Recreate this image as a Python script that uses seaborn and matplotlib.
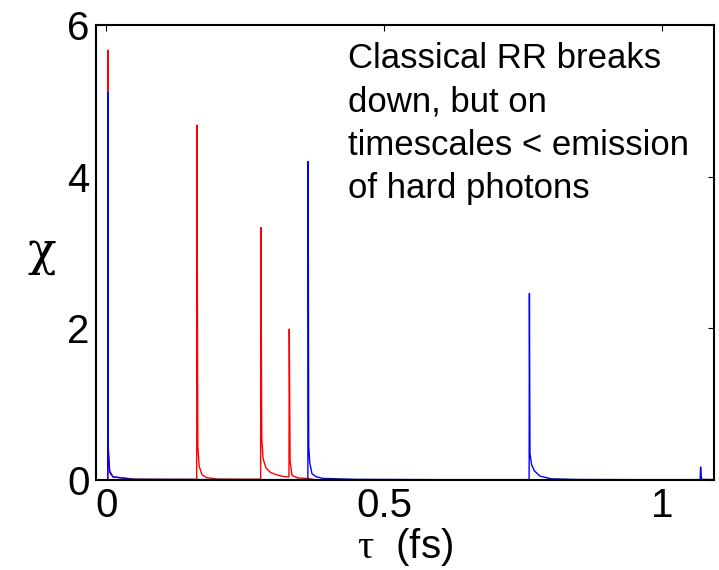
import matplotlib
matplotlib.use("Agg")
import matplotlib.pyplot as plt
import numpy as np
import pandas as pd
import seaborn as sns

# chi vs proper time
red_tau = [0.0, 0.0025, 0.0027, 0.0035, 0.006, 0.012, 0.05, 0.10,
           0.1625, 0.163, 0.1645, 0.167, 0.172, 0.18, 0.20, 0.24,
           0.2775, 0.278, 0.2795, 0.282, 0.287, 0.295, 0.305, 0.318,
           0.3285, 0.329, 0.3305, 0.334, 0.345, 0.36, 0.372]
red_chi = [0.0, 0.0, 5.67, 0.45, 0.12, 0.04, 0.01, 0.008,
           0.008, 4.68, 0.45, 0.18, 0.07, 0.03, 0.012, 0.01,
           0.01, 3.33, 0.55, 0.28, 0.16, 0.10, 0.07, 0.045,
           0.04, 1.99, 0.25, 0.06, 0.025, 0.02, 0.01]

blue_tau = [0.0, 0.0025, 0.0027, 0.0035, 0.006, 0.012, 0.05, 0.2,
            0.3625, 0.363, 0.364, 0.366, 0.37, 0.378, 0.39, 0.45, 0.6,
            0.7605, 0.761, 0.762, 0.765, 0.77, 0.78, 0.80, 0.85, 0.95,
            1.068, 1.069, 1.0705, 1.093]
blue_chi = [0.0, 0.0, 5.11, 0.35, 0.1, 0.04, 0.008, 0.004,
            0.004, 4.2, 0.45, 0.22, 0.08, 0.04, 0.02, 0.008, 0.004,
            0.004, 2.46, 0.35, 0.2, 0.12, 0.05, 0.015, 0.006, 0.004,
            0.004, 0.17, 0.008, 0.004]

x_ticks = [0, 0.5, 1]
x_ticklabels = ["0", "0.5", "1"]
y_ticks = [0, 2, 4, 6]
y_ticklabels = ["0", "2", "4", "6"]

note = "Classical RR breaks\ndown, but on\ntimescales < emission\nof hard photons"

df = pd.concat([
    pd.DataFrame({"tau": red_tau, "chi": red_chi, "run": "red"}),
    pd.DataFrame({"tau": blue_tau, "chi": blue_chi, "run": "blue"}),
], ignore_index=True)

sns.set_style("white")
plt.rcParams["font.family"] = ["Liberation Sans", "DejaVu Sans"]
plt.rcParams["text.color"] = "black"
plt.rcParams["axes.labelcolor"] = "black"
plt.rcParams["mathtext.fontset"] = "custom"
plt.rcParams["mathtext.rm"] = "Liberation Serif"
plt.rcParams["mathtext.it"] = "Liberation Serif:italic"

fig = plt.figure(figsize=(7.19, 5.70), dpi=100)
ax = fig.add_axes([0.134, 0.158, 0.859, 0.798])

sns.lineplot(data=df, x="tau", y="chi", hue="run", hue_order=["red", "blue"],
             palette={"red": "#ff0000", "blue": "#0000ff"},
             estimator=None, sort=False, legend=False, linewidth=1.0, ax=ax)

ax.set_xlim(-0.018, 1.093)
ax.set_ylim(0, 6)
ax.set_xticks(x_ticks)
ax.set_xticklabels(x_ticklabels)
ax.set_yticks(y_ticks)
ax.set_yticklabels(y_ticklabels)
ax.tick_params(direction="in", length=4, width=0.8, top=True, right=True,
               labelsize=29, pad=5, colors="black")

for s in ax.spines.values():
    s.set_visible(True)
    s.set_linewidth(1.5)
    s.set_color("black")

ax.set_xlabel(r"$\mathrm{\tau}$  (fs)", fontsize=29, labelpad=1)
ax.set_ylabel("χ", fontsize=34, rotation=0, family=["DejaVu Serif"],
              ha="center", va="center")
ax.yaxis.set_label_coords(-0.089, 0.50)

ax.text(0.434, 5.78, note, fontsize=25, va="top", ha="left", linespacing=1.4)

fig.savefig("out.png", dpi=100)
